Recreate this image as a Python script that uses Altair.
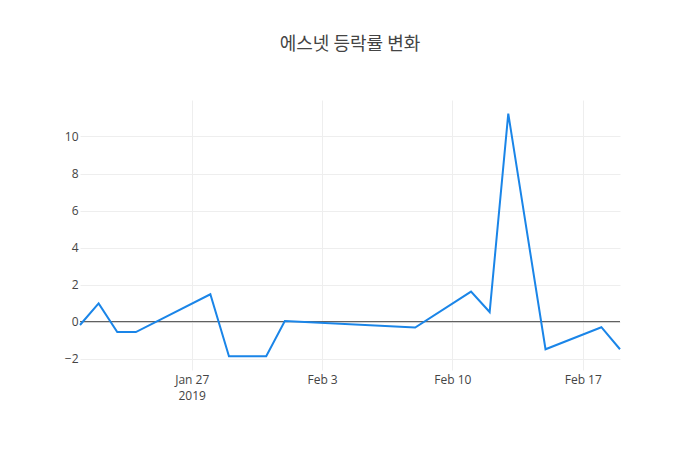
import altair as alt
import pandas as pd

dates = ["2019-01-21", "2019-01-22", "2019-01-23", "2019-01-24", "2019-01-28",
         "2019-01-29", "2019-01-31", "2019-02-01", "2019-02-08", "2019-02-11",
         "2019-02-12", "2019-02-13", "2019-02-15", "2019-02-18", "2019-02-19"]
values = [-0.18, 0.99, -0.56, -0.56, 1.48, -1.87, -1.87, 0.04, -0.32, 1.62,
          0.52, 11.23, -1.49, -0.30, -1.49]
tick_dates = ["2019-01-27", "2019-02-03", "2019-02-10", "2019-02-17"]
y_ticks = [-2, 0, 2, 4, 6, 8, 10]
title_text = "에스넷 등락률 변화"

def ms(d):
    return int(pd.Timestamp(d, tz="UTC").timestamp() * 1000)

df = pd.DataFrame({"date": [ms(d) for d in dates], "value": values})
x_domain = [ms(dates[0]), ms(dates[-1])]
x_ticks = [ms(d) for d in tick_dates]
first_tick = x_ticks[0]

font = "Open Sans"
y_scale = alt.Scale(domain=[-2.61, 11.97], nice=False, zero=False)
y_axis = alt.Axis(
    title=None, values=y_ticks, domain=False, ticks=False,
    gridColor="#eeeeee", labelColor="#444444", labelFont=font,
    labelFontSize=12, labelPadding=2,
)

x_enc = alt.X(
    "date:T",
    scale=alt.Scale(type="utc", domain=x_domain, nice=False),
    axis=alt.Axis(
        title=None, values=x_ticks, domain=False, ticks=False,
        gridColor="#eeeeee", labelColor="#444444", labelFont=font,
        labelFontSize=12, labelPadding=4, labelLineHeight=16,
        labelExpr=f"time(datum.value) == {first_tick} ? [utcFormat(datum.value, '%b %-d'), utcFormat(datum.value, '%Y')] : utcFormat(datum.value, '%b %-d')",
    ),
)

zero = alt.Chart(pd.DataFrame({"z": [0]})).mark_rule(color="#444444", strokeWidth=1).encode(
    y=alt.Y("z:Q", scale=y_scale, axis=y_axis)
)

line = alt.Chart(df).mark_line(color="#1a85e8", strokeWidth=2).encode(
    x=x_enc, y=alt.Y("value:Q", scale=y_scale, axis=y_axis)
)

chart = alt.layer(zero, line).properties(
    width=540, height=270,
    title=alt.TitleParams(title_text, font="Noto Sans CJK KR", fontSize=18,
                          fontWeight="normal", color="#444444", anchor="middle",
                          frame="group", offset=46),
    autosize=alt.AutoSizeParams(type="none"),
    padding={"left": 80, "top": 100, "right": 80, "bottom": 80},
    background="white",
).configure_view(stroke=None)

chart.save("out.html", embed_options={"renderer": "svg", "actions": False})
